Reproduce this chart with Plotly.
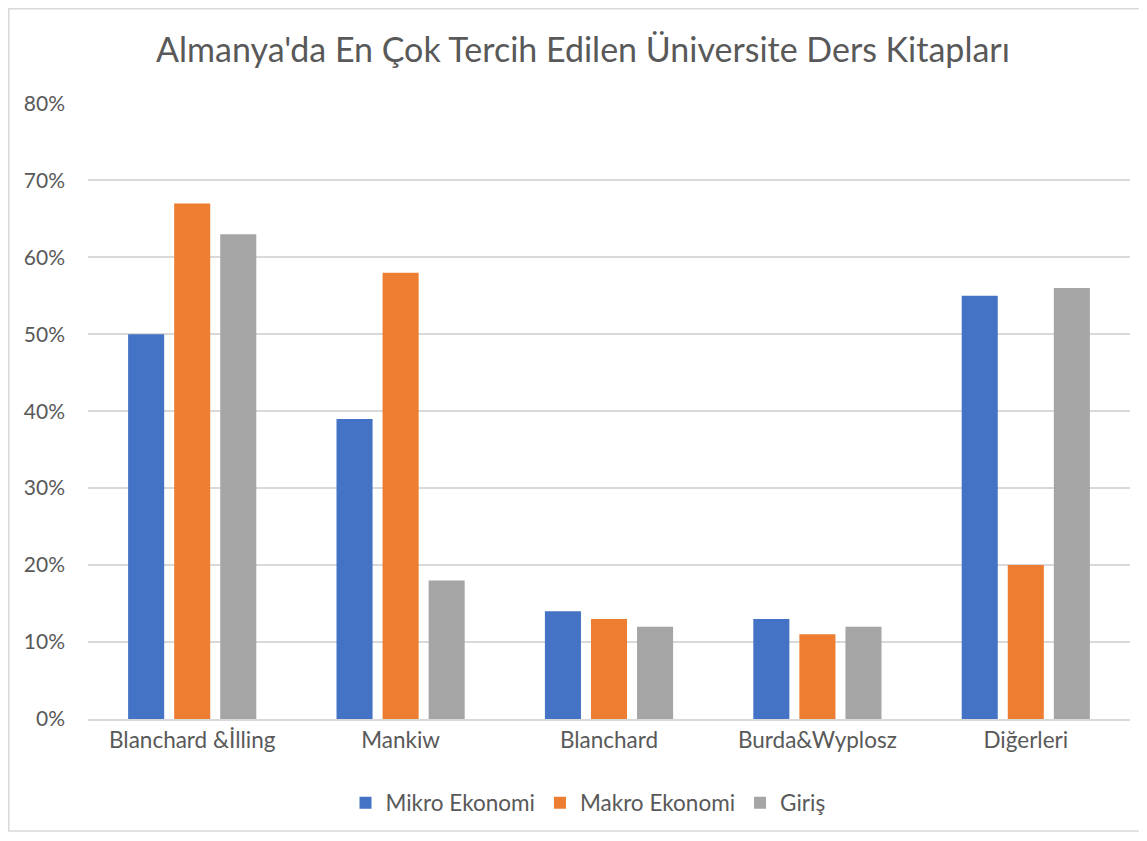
import plotly.graph_objects as go

categories = ["Blanchard &İlling", "Mankiw", "Blanchard", "Burda&Wyplosz", "Diğerleri"]
mikro = [0.50, 0.39, 0.14, 0.13, 0.55]
makro = [0.67, 0.58, 0.13, 0.11, 0.20]
giris = [0.63, 0.18, 0.12, 0.12, 0.56]
series_names = ["Mikro Ekonomi", "Makro Ekonomi", "Giriş"]
colors = ["#4472C4", "#ED7D31", "#A5A5A5"]
tick_vals = [0, 0.1, 0.2, 0.3, 0.4, 0.5, 0.6, 0.7, 0.8]
tick_text = ["0%", "10%", "20%", "30%", "40%", "50%", "60%", "70%", "80%"]

FONT = "Lato"
TXT = "#595959"
OFF = 8  # page body margin

fig = go.Figure()
for name, vals, c in zip(series_names, [mikro, makro, giris], colors):
    fig.add_trace(go.Bar(x=categories, y=vals, name=name, marker=dict(color=c, line=dict(width=0))))

W, H = 1147 - OFF, 841 - OFF
# reference page coords of plot area
PL, PR, PT, PB = 88, 1130, 103, 719
L = PL - OFF
T = PT - OFF
R = W - (PR - OFF)
B = H - (PB - OFF)
pw = W - L - R
ph = H - T - B

def px(x):
    return (x - OFF - L) / pw

def py(y):
    return (H - B - (y - OFF)) / ph

fig.update_layout(
    width=W, height=H,
    margin=dict(l=L, r=R, t=T, b=B),
    paper_bgcolor="white", plot_bgcolor="white",
    barmode="group", bargap=0.337, bargroupgap=0.217,
    title=dict(text="Almanya'da En Çok Tercih Edilen Üniversite Ders Kitapları",
               xref="container", x=(583 - OFF) / W, xanchor="center",
               yref="container", y=1 - (50 - OFF) / H, yanchor="middle",
               font=dict(family=FONT, size=34, color=TXT)),
    font=dict(family=FONT, size=22, color=TXT),
    xaxis=dict(showgrid=False, showline=True, linecolor="#D9D9D9", linewidth=1.5,
               ticks="", tickfont=dict(family=FONT, size=22.5, color=TXT)),
    yaxis=dict(range=[0, 0.8005], tickvals=tick_vals, ticktext=tick_text,
               showgrid=True, gridcolor="#D9D9D9", gridwidth=1.5, zeroline=False,
               showline=False, ticks="", ticklabelstandoff=22,
               tickfont=dict(family=FONT, size=21, color=TXT)),
    legend=dict(orientation="h", x=px(588), xanchor="center", y=py(803), yanchor="middle",
                font=dict(family=FONT, size=22.5, color=TXT), itemwidth=30,
                traceorder="normal"),
    shapes=[dict(type="rect", xref="paper", yref="paper",
                 x0=px(OFF + 0.75), x1=px(1250), y0=py(831), y1=py(OFF + 0.75),
                 line=dict(color="#D9D9D9", width=1.5), fillcolor="rgba(0,0,0,0)", layer="below")],
)

fig.write_html("out.html")
